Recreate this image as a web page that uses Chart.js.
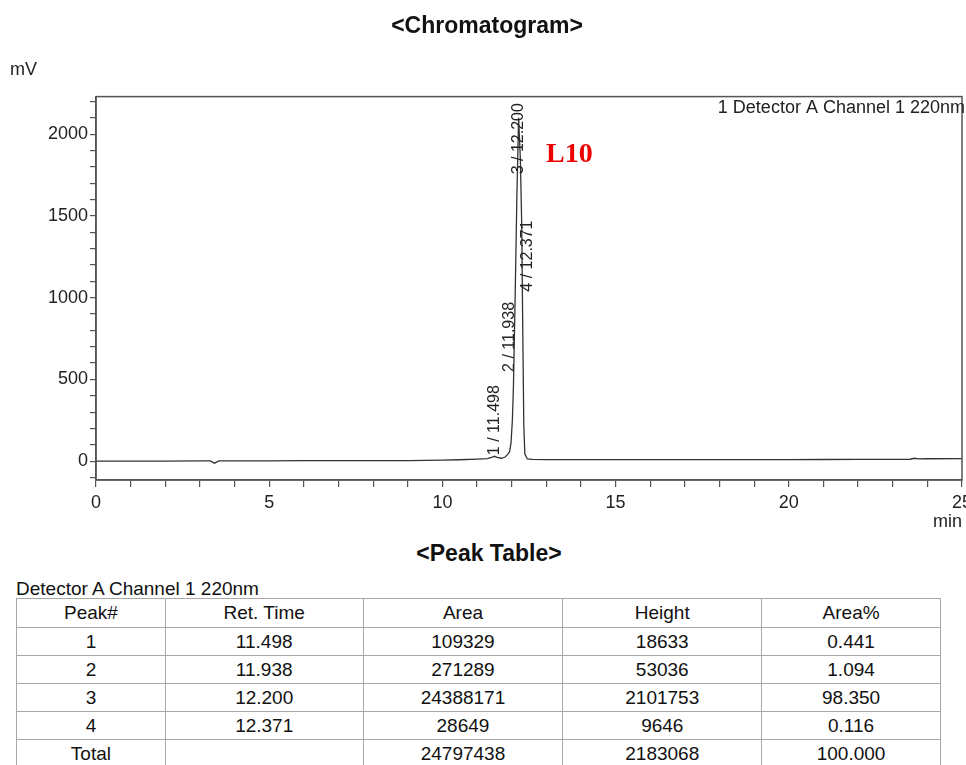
<!DOCTYPE html>
<html>
<head>
<meta charset="utf-8">
<script src="https://cdn.jsdelivr.net/npm/chart.js@4.4.1/dist/chart.umd.min.js"></script>
<style>
  body { margin: 0; background: #fff; font-family: "Liberation Sans", Arial, sans-serif; color: #111; }
  #wrap { position: relative; width: 966px; height: 765px; overflow: hidden; }
  #chartBox { position: absolute; left: 0; top: 0; width: 966px; height: 535px; }
  #peakTitle { position: absolute; left: 12px; width: 954px; top: 539px; line-height: 28px; text-align: center; font-size: 23px; font-weight: bold; }
  #detName { position: absolute; left: 16px; top: 578px; line-height: 22px; font-size: 19px; }
  #peakTable { position: absolute; left: 16px; top: 598px; width: 925px; border-collapse: collapse; font-size: 19px; }
  #peakTable td, #peakTable th { border: 1px solid #a8a8a8; text-align: center; font-weight: normal; height: 27px; padding: 0; }
  #peakTable th { height: 28px; }
</style>
</head>
<body>
<div id="wrap">
  <div id="chartBox"><canvas id="chrom" width="966" height="535"></canvas></div>
  <div id="peakTitle">&lt;Peak Table&gt;</div>
  <div id="detName">Detector A Channel 1 220nm</div>
  <table id="peakTable">
    <colgroup><col style="width:149px"><col style="width:198px"><col style="width:200px"><col style="width:199px"><col style="width:179px"></colgroup>
    <thead><tr><th>Peak#</th><th>Ret. Time</th><th>Area</th><th>Height</th><th>Area%</th></tr></thead>
    <tbody id="peakRows"></tbody>
  </table>
</div>
<script>
// trace (min, mV)
const times = [0, 1, 2, 3, 3.3, 3.42, 3.55, 4, 5, 6, 7, 8, 9, 10, 10.5, 11, 11.3, 11.42, 11.5, 11.58, 11.7, 11.8, 11.88, 11.94,
  11.98, 12.02, 12.05, 12.1, 12.15, 12.2, 12.25, 12.29, 12.32, 12.35, 12.38, 12.45, 12.6, 13, 14, 15, 16, 17, 18, 19, 20,
  21, 22, 23, 23.5, 23.62, 23.75, 24, 25];
const signal = [0, 0.5, 1, 1.5, 1.5, -12, 1.5, 2, 2.5, 3, 3, 3.5, 4, 6, 9, 13, 16, 24, 30, 24, 18, 24, 40, 58,
  110, 250, 450, 1000, 1620, 2101, 1850, 1450, 800, 220, 45, 14, 11, 10, 10, 10, 10, 10, 10, 10, 10,
  10.5, 11, 11, 12, 18, 14, 15, 16];

// peak table
const peakNo = [1, 2, 3, 4];
const retTimes = [11.498, 11.938, 12.200, 12.371];
const areas = [109329, 271289, 24388171, 28649];
const heights = [18633, 53036, 2101753, 9646];
const areaPct = [0.441, 1.094, 98.350, 0.116];

const yTickLabels = [0, 500, 1000, 1500, 2000];
const xTickLabels = [0, 5, 10, 15, 20, 25];

const FONT = '"Liberation Sans", Arial, sans-serif';
Chart.defaults.font.family = FONT;
Chart.defaults.color = '#222';

// where the rotated peak labels start (mV), as printed
const labelBaseMv = [37, 546, 1755, 1037];

const overlay = {
  id: 'overlay',
  afterDraw(chart) {
    const { ctx, chartArea: a, scales: { x, y } } = chart;
    ctx.save();
    // frame
    ctx.strokeStyle = '#555';
    ctx.lineWidth = 1.5;
    ctx.strokeRect(a.left, a.top, a.right - a.left, a.bottom - a.top);

    // peak labels
    ctx.fillStyle = '#222';
    ctx.font = '16px ' + FONT;
    ctx.textAlign = 'left';
    ctx.textBaseline = 'middle';
    peakNo.forEach((n, i) => {
      const px = x.getPixelForValue(retTimes[i]) + (i === 3 ? 3 : 0);
      const py = y.getPixelForValue(labelBaseMv[i]);
      ctx.save();
      ctx.translate(px, py);
      ctx.rotate(-Math.PI / 2);
      ctx.fillText(n + ' / ' + retTimes[i].toFixed(3), 0, 0);
      ctx.restore();
    });

    // channel name top right
    ctx.font = '18px ' + FONT;
    ctx.textAlign = 'right';
    ctx.fillText('1 Detector A Channel 1 220nm', a.right + 3, a.top + 11);

    // mV unit
    ctx.textAlign = 'left';
    ctx.fillText('mV', 10, 70);

    // sample tag
    ctx.fillStyle = '#ee0000';
    ctx.font = 'bold 28px "Liberation Serif", "Times New Roman", serif';
    ctx.fillText('L10', x.getPixelForValue(12.99), y.getPixelForValue(1877));
    ctx.restore();
  }
};

new Chart(document.getElementById('chrom'), {
  type: 'line',
  data: {
    datasets: [{
      data: times.map((t, i) => ({ x: t, y: signal[i] })),
      borderColor: '#333',
      borderWidth: 1.3,
      pointRadius: 0,
      tension: 0,
      fill: false
    }]
  },
  options: {
    responsive: false,
    animation: false,
    layout: { padding: { left: 12, right: 4, top: 0, bottom: 0 } },
    plugins: {
      legend: { display: false },
      tooltip: { enabled: false },
      title: {
        display: true,
        text: '<Chromatogram>',
        color: '#111',
        font: { size: 23, weight: 'bold' },
        padding: { top: 13, bottom: 56 }
      }
    },
    scales: {
      x: {
        type: 'linear',
        min: 0,
        max: 25,
        afterFit(s) { s.height = 55; s.paddingLeft = 0; s.paddingRight = 0; },
        border: { display: true, color: '#555', width: 1.5 },
        grid: { drawOnChartArea: false, drawTicks: true, tickLength: 7, color: '#555', lineWidth: 1.2 },
        ticks: {
          stepSize: 1,
          autoSkip: false,
          maxRotation: 0,
          padding: 5,
          font: { size: 18 },
          callback: v => xTickLabels.includes(v) ? String(v) : ''
        },
        title: { display: true, text: 'min', align: 'end', font: { size: 18 }, padding: { top: 0, bottom: 2 } }
      },
      y: {
        min: -115,
        max: 2230,
        afterFit(s) { s.width = 84; s.paddingTop = 0; s.paddingBottom = 0; },
        border: { display: true, color: '#555', width: 1.5 },
        grid: { drawOnChartArea: false, drawTicks: true, tickLength: 6, color: '#555', lineWidth: 1.2 },
        ticks: {
          stepSize: 100,
          includeBounds: false,
          autoSkip: false,
          padding: 2,
          font: { size: 18 },
          callback: v => yTickLabels.includes(v) ? String(v) : ''
        }
      }
    }
  },
  plugins: [overlay]
});

// peak table rows
const rows = document.getElementById('peakRows');
function addRow(cells) {
  const tr = document.createElement('tr');
  cells.forEach(v => {
    const td = document.createElement('td');
    td.textContent = v;
    tr.appendChild(td);
  });
  rows.appendChild(tr);
}
peakNo.forEach((n, i) => addRow([n, retTimes[i].toFixed(3), areas[i], heights[i], areaPct[i].toFixed(3)]));
const areaTotal = areas.reduce((s, v) => s + v, 0);
addRow(['Total', '', areaTotal, heights.reduce((s, v) => s + v, 0), (areaTotal / areaTotal * 100).toFixed(3)]);
</script>
</body>
</html>
